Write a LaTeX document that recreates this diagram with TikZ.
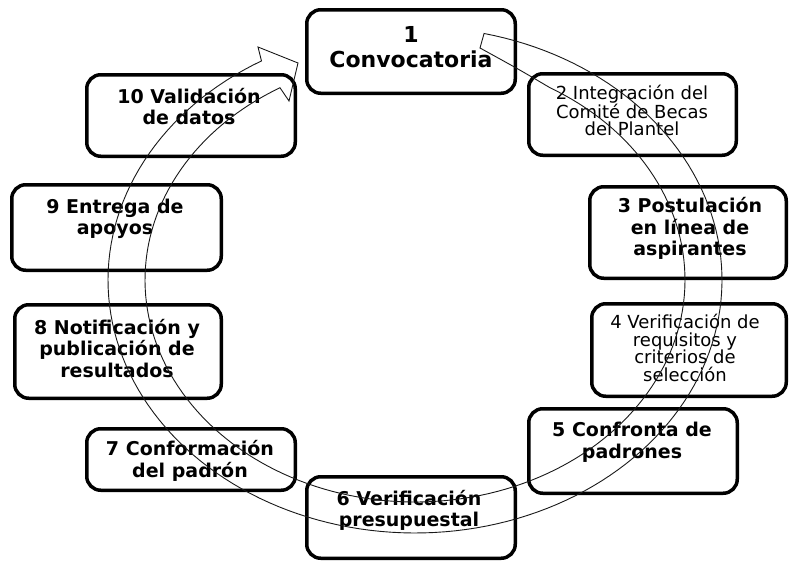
\documentclass[tikz,border=0pt]{standalone}
\usepackage{fontspec}
\setmainfont{DejaVu Sans}
\begin{document}
\begin{tikzpicture}[x=1pt,y=-1pt,
  stage/.style={draw, rounded corners=14pt, line width=3.5pt, minimum width=208.5pt, minimum height=82pt, inner sep=0pt},
  bigtxt/.style={align=center, inner sep=0pt, font=\bfseries\fontsize{22}{25}\selectfont},
  boldtxt/.style={align=center, inner sep=0pt, font=\bfseries\fontsize{19}{21.5}\selectfont},
  thintxt/.style={align=center, inner sep=0pt, font=\fontsize{18}{17.5}\selectfont},
  cyclearrow/.style={draw=black!90, line width=0.9pt}]
\useasboundingbox (0,0) rectangle (790,562);
% boxes
\node[stage, minimum height=83.5pt] (b1) at (411,51.5){};
\node[stage, minimum width=207.5pt, minimum height=81.5pt] (b2) at (632.5,114.5){};
\node[stage, minimum width=196.5pt, minimum height=91.5pt] (b3) at (688,232.5){};
\node[stage, minimum width=194.5pt, minimum height=92.5pt] (b4) at (689,350){};
\node[stage, minimum height=84.5pt] (b5) at (633,451){};
\node[stage, minimum height=81.5pt] (b6) at (411,517.5){};
\node[stage, minimum height=61.5pt] (b7) at (191,459.5){};
\node[stage, minimum width=206.5pt, minimum height=93.5pt] (b8) at (118,351.5){};
\node[stage, minimum width=209.5pt, minimum height=85.5pt] (b9) at (116.5,227.5){};
\node[stage, minimum height=81.5pt] (b10) at (191,115.5){};
% texts
\node[bigtxt] (t1) at (411,47.5){1\\Convocatoria};
\node[thintxt] (t2) at (632,110.5){2 Integración del\\Comité de Becas\\del Plantel};
\node[boldtxt] (t3) at (690,228.5){3 Postulación\\en línea de\\aspirantes};
\node[thintxt] (t4) at (685,348){4 Verificación de\\requisitos y\\criterios de\\selección};
\node[boldtxt] (t5) at (632,442.5){5 Confronta de\\padrones};
\node[boldtxt] (t6) at (409,510.5){6 Verificación\\presupuestal};
\node[boldtxt] (t7) at (190,461){7 Conformación\\del padrón};
\node[boldtxt] (t8) at (117,348.5){8 Notificación y\\publicación de\\resultados};
\node[boldtxt] (t9) at (115,219){9 Entrega de\\apoyos};
\node[boldtxt] (t10) at (189,106.5){10 Validación\\de datos};
% cycle arrow
\draw[cyclearrow] plot[domain=77:-240, samples=160] ({415+307*cos(\x)},{280-253*sin(\x)})
  -- (258,47) -- (298,63) -- (289,101)
  -- plot[domain=-240:60, samples=160] ({415+270*cos(\x)},{280-222*sin(\x)})
  .. controls (520,70) .. (480,48) -- cycle;
\end{tikzpicture}
\end{document}
